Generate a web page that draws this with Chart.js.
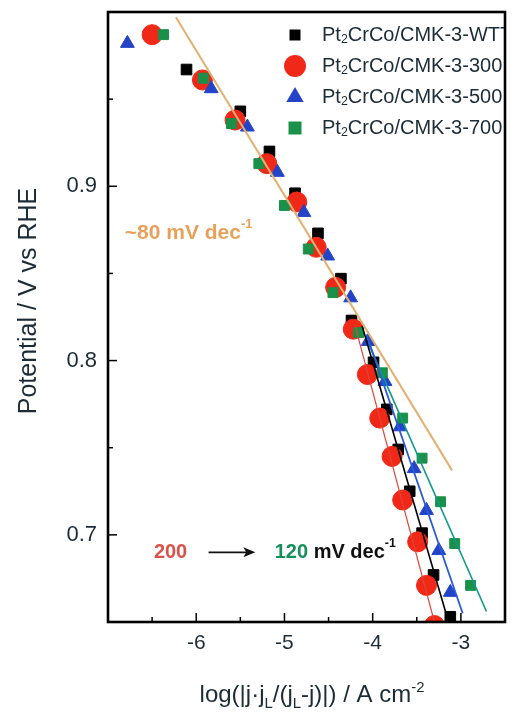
<!DOCTYPE html>
<html lang="en">
<head>
<meta charset="UTF-8">
<title>Tafel plot Pt2CrCo/CMK-3</title>
<script src="https://cdn.jsdelivr.net/npm/chart.js"></script>
<style>
  html, body { margin: 0; padding: 0; overflow: hidden; background: #fff; }
  canvas { display: block; }
</style>
</head>
<body>
<canvas id="tafel" width="516" height="719"></canvas>
<script>
// values (x = log|j.jL/(jL-j)|, y = potential)
const wttX = [-6.11, -5.50, -5.17, -4.88, -4.62, -4.36, -4.24, -3.99, -3.84, -3.71, -3.58, -3.44, -3.31, -3.12];
const wttY = [0.967, 0.943, 0.920, 0.896, 0.873, 0.847, 0.823, 0.799, 0.772, 0.749, 0.725, 0.701, 0.677, 0.653];

const s300X = [-6.50, -5.93, -5.56, -5.20, -4.86, -4.64, -4.42, -4.22, -4.06, -3.92, -3.78, -3.66, -3.49, -3.39, -3.30];
const s300Y = [0.987, 0.961, 0.938, 0.913, 0.891, 0.865, 0.842, 0.818, 0.792, 0.767, 0.745, 0.720, 0.696, 0.671, 0.648];

const s500X = [-6.78, -5.83, -5.42, -5.08, -4.78, -4.51, -4.25, -4.05, -3.86, -3.69, -3.53, -3.39, -3.25, -3.12];
const s500Y = [0.982, 0.956, 0.934, 0.908, 0.885, 0.860, 0.836, 0.811, 0.788, 0.762, 0.738, 0.714, 0.691, 0.667];

const s700X = [-6.37, -5.92, -5.60, -5.29, -5.00, -4.73, -4.45, -4.16, -3.89, -3.66, -3.44, -3.23, -3.07, -2.89];
const s700Y = [0.987, 0.962, 0.936, 0.913, 0.889, 0.864, 0.839, 0.816, 0.793, 0.767, 0.744, 0.719, 0.695, 0.671];

// tafel fit lines (end points)
const fitLowX = [-6.23, -3.10];  const fitLowY = [0.997, 0.737];   // ~80 mV/dec
const fitWttX = [-4.12, -3.14];  const fitWttY = [0.820, 0.650];
const fit300X = [-4.20, -3.30];  const fit300Y = [0.820, 0.650];
const fit500X = [-4.07, -2.98];  const fit500Y = [0.815, 0.655];
const fit700X = [-4.05, -2.71];  const fit700Y = [0.810, 0.656];

const seriesNames = ['Pt2CrCo/CMK-3-WTT', 'Pt2CrCo/CMK-3-300', 'Pt2CrCo/CMK-3-500', 'Pt2CrCo/CMK-3-700'];
const xTickLabels = [-6, -5, -4, -3];
const yTickLabels = [0.7, 0.8, 0.9];

const FONT = "'Liberation Sans', Arial, sans-serif";
const INK = '#1c2b36';
// wanted plot frame in the 516x719 canvas
const AREA = { left: 108, top: 12, right: 513, bottom: 622 };

function pts(xs, ys) { return xs.map((x, i) => ({ x: x, y: ys[i] })); }

function scatterSet(label, xs, ys, style, r, color, order) {
    return {
        label: label, data: pts(xs, ys), showLine: false,
        pointStyle: style, pointRadius: r, pointHoverRadius: r,
        backgroundColor: color, borderColor: color, borderWidth: 1, order: order
    };
}
function fitSet(xs, ys, color, w) {
    return {
        label: 'fit', data: pts(xs, ys), showLine: true, pointRadius: 0,
        borderColor: color, borderWidth: w, fill: false, order: 0
    };
}

// draws text with sub / sup pieces
function richText(ctx, parts, x, y, size, align) {
    let total = 0;
    parts.forEach(p => {
        const s = p.sub || p.sup ? size * 0.62 : size;
        ctx.font = (p.bold ? 'bold ' : '') + s + 'px ' + FONT;
        p.w = ctx.measureText(p.t).width;
        total += p.w;
    });
    let cx = align === 'center' ? x - total / 2 : x;
    parts.forEach(p => {
        const s = p.sub || p.sup ? size * 0.62 : size;
        ctx.font = (p.bold ? 'bold ' : '') + s + 'px ' + FONT;
        ctx.fillStyle = p.color || INK;
        let dy = 0;
        if (p.sub) dy = size * 0.25;
        if (p.sup) dy = -size * 0.42;
        ctx.fillText(p.t, cx, y + dy);
        cx += p.w;
    });
}

function marker(ctx, style, x, y, r, color) {
    ctx.fillStyle = color;
    ctx.beginPath();
    if (style === 'circle') {
        ctx.arc(x, y, r, 0, Math.PI * 2);
    } else if (style === 'triangle') {
        ctx.moveTo(x, y - r);
        ctx.lineTo(x + r * 0.87, y + r * 0.5);
        ctx.lineTo(x - r * 0.87, y + r * 0.5);
        ctx.closePath();
    } else {
        ctx.rect(x - r, y - r, r * 2, r * 2);
    }
    ctx.fill();
}

const decor = {
    id: 'decor',
    afterDraw(chart) {
        const ctx = chart.ctx;
        const a = chart.chartArea;
        const xs = chart.scales.x, ys = chart.scales.y;
        ctx.save();

        // legend inside plot, top right
        ctx.save();
        ctx.beginPath();
        ctx.rect(a.left, a.top, a.right - a.left, a.bottom - a.top);
        ctx.clip();
        const legendStyles = [['rect', 5.5, '#000000'], ['circle', 11, '#f02818'], ['triangle', 10, '#2444c8'], ['rect', 6.5, '#1a9048']];
        ctx.textBaseline = 'middle';
        seriesNames.forEach((name, i) => {
            const y = 35 + i * 31;
            const st = legendStyles[i];
            marker(ctx, st[0], 295, y, st[1], st[2]);
            const rest = name.replace('Pt2', '');
            richText(ctx, [{ t: 'Pt' }, { t: '2', sub: true }, { t: rest }], 322, y, 20, 'left');
        });
        ctx.restore();

        // annotations
        ctx.textBaseline = 'middle';
        richText(ctx, [{ t: '~80 mV dec', bold: true, color: '#e6a25a' }, { t: '-1', sup: true, bold: true, color: '#e6a25a' }],
            xs.getPixelForValue(-6.81), ys.getPixelForValue(0.873), 21, 'left');
        richText(ctx, [{ t: '200', bold: true, color: '#d8524a' }],
            xs.getPixelForValue(-6.48), ys.getPixelForValue(0.690), 20, 'left');
        richText(ctx, [{ t: '120', bold: true, color: '#16905a' }, { t: ' mV dec', bold: true, color: '#111' },
            { t: '-1', sup: true, bold: true, color: '#111' }],
            xs.getPixelForValue(-5.11), ys.getPixelForValue(0.690), 20, 'left');
        // arrow
        const ax0 = xs.getPixelForValue(-5.86), ax1 = xs.getPixelForValue(-5.33), ay = ys.getPixelForValue(0.690);
        ctx.strokeStyle = '#111';
        ctx.fillStyle = '#111';
        ctx.lineWidth = 1.8;
        ctx.beginPath();
        ctx.moveTo(ax0, ay);
        ctx.lineTo(ax1 - 8, ay);
        ctx.stroke();
        ctx.beginPath();
        ctx.moveTo(ax1, ay);
        ctx.lineTo(ax1 - 12, ay - 5);
        ctx.lineTo(ax1 - 9, ay);
        ctx.lineTo(ax1 - 12, ay + 5);
        ctx.closePath();
        ctx.fill();

        // inward tick marks
        ctx.strokeStyle = '#000';
        ctx.lineWidth = 1.5;
        xs.ticks.forEach(t => {
            const px = xs.getPixelForValue(t.value);
            const major = Math.abs(t.value - Math.round(t.value)) < 1e-6;
            ctx.beginPath();
            ctx.moveTo(px, a.bottom);
            ctx.lineTo(px, a.bottom - (major ? 9 : 5));
            ctx.stroke();
        });
        ys.ticks.forEach(t => {
            const py = ys.getPixelForValue(t.value);
            const major = Math.round(t.value * 100) % 10 === 0;
            ctx.beginPath();
            ctx.moveTo(a.left, py);
            ctx.lineTo(a.left + (major ? 9 : 5), py);
            ctx.stroke();
        });

        // frame
        ctx.lineWidth = 2.6;
        ctx.strokeRect(a.left, a.top, a.right - a.left, a.bottom - a.top);

        // axis titles
        ctx.textBaseline = 'alphabetic';
        richText(ctx, [{ t: 'log(|j·j' }, { t: 'L', sub: true }, { t: '/(j' }, { t: 'L', sub: true },
            { t: '-j)|) / A cm' }, { t: '-2', sup: true }], 312, 702, 24, 'center');
        ctx.save();
        ctx.translate(36, 301);
        ctx.rotate(-Math.PI / 2);
        ctx.fillStyle = INK;
        ctx.font = '25px ' + FONT;
        ctx.textAlign = 'center';
        ctx.fillText('Potential / V vs RHE', 0, 0);
        ctx.restore();

        ctx.restore();
    }
};

function noPad(s) {
    s.paddingTop = 0; s.paddingBottom = 0; s.paddingLeft = 0; s.paddingRight = 0;
}

const chart = new Chart(document.getElementById('tafel'), {
    type: 'scatter',
    data: {
        datasets: [
            fitSet(fitLowX, fitLowY, '#e2b070', 2),
            fitSet(fitWttX, fitWttY, '#000000', 1.6),
            fitSet(fit300X, fit300Y, '#e04438', 1.2),
            fitSet(fit500X, fit500Y, '#2a5ad8', 1.8),
            fitSet(fit700X, fit700Y, '#109a8a', 1.6),
            scatterSet(seriesNames[0], wttX, wttY, 'rect', 7.5, '#000000', 4),
            scatterSet(seriesNames[1], s300X, s300Y, 'circle', 10, '#f02818', 3),
            scatterSet(seriesNames[2], s500X, s500Y, 'triangle', 8, '#2444c8', 2),
            scatterSet(seriesNames[3], s700X, s700Y, 'rect', 7, '#1a9048', 1)
        ]
    },
    options: {
        responsive: false,
        animation: false,
        layout: { padding: { top: 12, right: 3, left: 0, bottom: 0 } },
        plugins: { legend: { display: false }, tooltip: { enabled: false } },
        scales: {
            x: {
                type: 'linear', min: -7, max: -2.5,
                grid: { display: false, drawTicks: false },
                border: { display: false },
                afterFit: s => { s.height = 97; noPad(s); },
                ticks: {
                    stepSize: 0.5, padding: 9, color: INK,
                    font: { family: FONT, size: 21 },
                    callback: v => xTickLabels.includes(v) ? String(v) : ''
                }
            },
            y: {
                min: 0.65, max: 1.0,
                grid: { display: false, drawTicks: false },
                border: { display: false },
                afterFit: s => { s.width = 108; noPad(s); },
                ticks: {
                    stepSize: 0.05, padding: 11, color: INK,
                    font: { family: FONT, size: 22 },
                    callback: v => {
                        const r = Math.round(v * 100) / 100;
                        return yTickLabels.includes(r) ? r.toFixed(1) : '';
                    }
                }
            }
        }
    },
    plugins: [decor]
});

// nudge the layout padding so the plot frame lands where it is in the figure
const pad = chart.options.layout.padding;
const dr = chart.chartArea.right - AREA.right;
const dt = chart.chartArea.top - AREA.top;
if (Math.abs(dr) > 0.5 || Math.abs(dt) > 0.5) {
    pad.right += dr;
    pad.top -= dt;
    chart.update();
}
</script>
</body>
</html>
